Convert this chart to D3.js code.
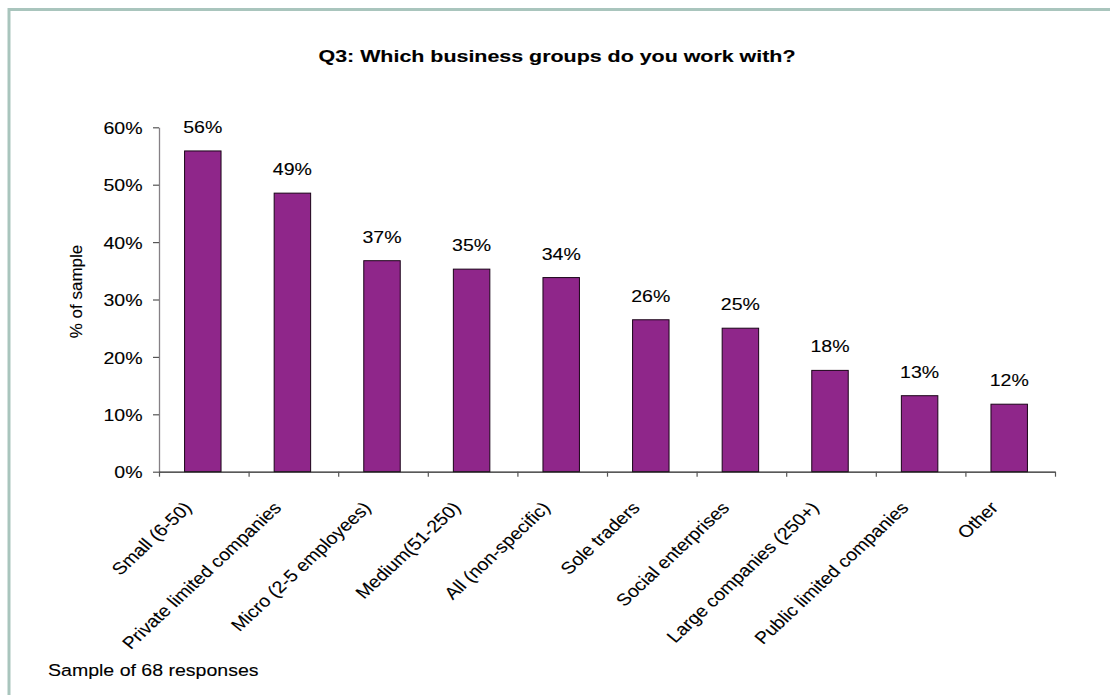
<!DOCTYPE html>
<html>
<head>
<meta charset="utf-8">
<script src="https://cdn.jsdelivr.net/npm/d3@7"></script>
<style>
  html, body { margin: 0; padding: 0; background: #ffffff; }
  svg text { font-family: Arial, "Liberation Sans", Helvetica, sans-serif; fill: #000; }
  svg text.soft { stroke: #000; stroke-width: 0.12px; }
</style>
</head>
<body>
<svg id="chart" width="1110" height="695"></svg>
<script>
// Survey results: share of respondents working with each business group
const categories = [
  "Small (6-50)",
  "Private limited companies",
  "Micro (2-5 employees)",
  "Medium(51-250)",
  "All  (non-specific)",
  "Sole traders",
  "Social enterprises",
  "Large companies (250+)",
  "Public limited companies",
  "Other"
];
const values = [55.88, 48.53, 36.76, 35.29, 33.82, 26.47, 25.00, 17.65, 13.24, 11.76];
const yTicks = [0, 10, 20, 30, 40, 50, 60];
const titleText = "Q3: Which business groups do you work with?";
const yLabel = "% of sample";
const footnote = "Sample of 68 responses";

const W = 1110, H = 695;
const plot = { left: 159, right: 1055, top: 127.3, bottom: 471.7 };
const stretch = 1.15;   // horizontal glyph stretch applied to text
const fontSize = 17;

const svg = d3.select("#chart");

// outer frame (runs off the right and bottom edges)
svg.append("rect")
  .attr("x", 9).attr("y", 9.5)
  .attr("width", W + 20).attr("height", H + 20)
  .attr("fill", "#ffffff")
  .attr("stroke", "#a9c5bd")
  .attr("stroke-width", 3);

const x = d3.scaleBand()
  .domain(categories)
  .range([plot.left, plot.right])
  .paddingInner(0.593)
  .paddingOuter(0.2965);

const xIndex = d3.scaleLinear()
  .domain([0, categories.length])
  .range([plot.left, plot.right]);

const y = d3.scaleLinear()
  .domain([0, 60])
  .range([plot.bottom, plot.top]);

const fmt = d3.format(".0%");

// bars
svg.append("g")
  .selectAll("rect")
  .data(values)
  .join("rect")
  .attr("x", (d, i) => x(categories[i]) - 1)
  .attr("y", d => y(d))
  .attr("width", x.bandwidth())
  .attr("height", d => y(0) - y(d))
  .attr("fill", "#8f268a")
  .attr("stroke", "#1a0418")
  .attr("stroke-width", 1);

// value labels above bars
svg.append("g")
  .selectAll("text")
  .data(values)
  .join("text")
  .attr("class", "soft")
  .attr("text-anchor", "middle")
  .attr("font-size", fontSize)
  .attr("transform", (d, i) =>
    `translate(${x(categories[i]) + x.bandwidth() / 2 - 1},${y(d) - 18}) scale(${stretch},1)`)
  .text(d => fmt(d / 100));

// y axis
const yAxis = svg.append("g")
  .attr("transform", `translate(${plot.left},0)`)
  .call(d3.axisLeft(y).tickValues(yTicks).tickSize(6).tickSizeOuter(0)
    .tickFormat(d => d + "%"));
yAxis.select(".domain").attr("stroke", "#858085").attr("stroke-width", 1.3);
yAxis.selectAll(".tick line").attr("stroke", "#555").attr("stroke-width", 1.2);
yAxis.selectAll(".tick text")
  .attr("class", "soft")
  .attr("x", null).attr("dy", "0.36em")
  .attr("font-size", fontSize)
  .attr("font-family", null)
  .attr("fill", "#000")
  .attr("transform", `translate(-16.5,0) scale(${stretch},1)`);

// x axis with ticks between categories
const xAxis = svg.append("g")
  .attr("transform", `translate(0,${plot.bottom})`)
  .call(d3.axisBottom(xIndex).tickValues(d3.range(categories.length + 1))
    .tickSizeInner(5).tickSizeOuter(0).tickFormat(""));
xAxis.select(".domain").attr("stroke", "#222").attr("stroke-width", 1.3);
xAxis.selectAll(".tick line").attr("stroke", "#555").attr("stroke-width", 1.2);

// slanted category labels, ending just left of each category centre
svg.append("g")
  .selectAll("text")
  .data(categories)
  .join("text")
  .attr("class", "soft")
  .attr("text-anchor", "end")
  .attr("font-size", fontSize)
  .attr("transform", d =>
    `translate(${x(d) + x.bandwidth() / 2 - 11},${plot.bottom + 37}) scale(${stretch},1) rotate(-47)`)
  .text(d => d);

// title
svg.append("text")
  .attr("class", "soft")
  .attr("text-anchor", "middle")
  .attr("font-size", 17)
  .attr("font-weight", "bold")
  .attr("transform", `translate(557,62) scale(1.26,1)`)
  .text(titleText);

// y axis title
svg.append("text")
  .attr("class", "soft")
  .attr("text-anchor", "middle")
  .attr("font-size", fontSize)
  .attr("transform", `translate(82,291.5) rotate(-90)`)
  .text(yLabel);

// sample size note
svg.append("text")
  .attr("class", "soft")
  .attr("font-size", fontSize)
  .attr("transform", `translate(48,676) scale(${stretch},1)`)
  .text(footnote);
</script>
</body>
</html>
